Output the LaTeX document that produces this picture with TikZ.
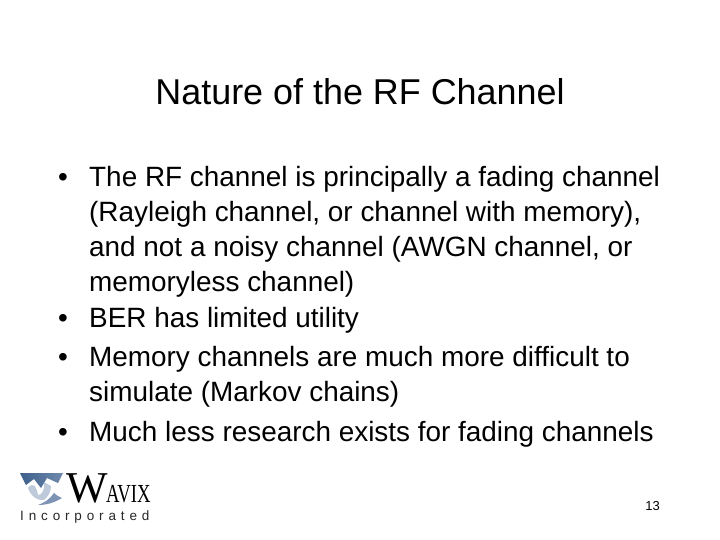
\documentclass[tikz,border=0pt]{standalone}
\usepackage{fontspec}
\setmainfont{Liberation Sans}
\newfontfamily\logoserif{Liberation Serif}
\newfontfamily\logosans[LetterSpace=36]{Liberation Sans}
\definecolor{logoblue}{RGB}{60,95,140}
\definecolor{logopale}{RGB}{190,202,218}
\definecolor{logomid}{RGB}{125,148,180}
\definecolor{logogray}{RGB}{40,40,40}
\tikzset{
  titletext/.style={anchor=base,font=\fontsize{35.9}{40}\selectfont,text=black,inner sep=0},
  bodytext/.style={anchor=base west,font=\fontsize{27.9}{32}\selectfont,text=black,inner sep=0},
}
\begin{document}
\begin{tikzpicture}[x=1pt,y=-1pt]
\useasboundingbox (0,0) rectangle (720,540);
\fill[white] (0,0) rectangle (720,540);
\node[titletext] (title) at (360,105) {Nature of the RF Channel};
\node[bodytext] (b1) at (58,187) {•};
\node[bodytext] (l1) at (89,187) {The RF channel is principally a fading channel};
\node[bodytext] (l2) at (89,222) {(Rayleigh channel, or channel with memory),};
\node[bodytext] (l3) at (89,256) {and not a noisy channel (AWGN channel, or};
\node[bodytext] (l4) at (89,291) {memoryless channel)};
\node[bodytext] (b2) at (58,327) {•};
\node[bodytext] (l5) at (89,327) {BER has limited utility};
\node[bodytext] (b3) at (58,366) {•};
\node[bodytext] (l6) at (89,366) {Memory channels are much more difficult to};
\node[bodytext] (l7) at (89,401) {simulate (Markov chains)};
\node[bodytext] (b4) at (58,441) {•};
\node[bodytext] (l8) at (89,441) {Much less research exists for fading channels};
\node[anchor=base east,font=\fontsize{13}{15}\selectfont,inner sep=0] (pg) at (660,510) {13};
% logo mark
\shade[left color=logoblue,right color=logomid!80!logoblue,shading angle=90] (20,473) -- (63,473) -- (58,483) -- (47,478) -- (41,488) -- (34,479) -- (26,485) -- cycle;
\fill[logopale] (28,488) .. controls (33,482) and (36,485) .. (38,495) .. controls (42,495) and (45,490) .. (44,482) -- (51,486) .. controls (51,492) and (48,497) .. (44,500) .. controls (37,501) and (31,496) .. (28,488) -- cycle;
\fill[logomid] (38,505) .. controls (44,503) and (50,499) .. (54,493) .. controls (56,495) and (59,497) .. (62,498) .. controls (54,503) and (46,505) .. (38,505) -- cycle;
% logo lettering
\node[anchor=base west,inner sep=0,font=\logoserif\fontsize{44}{44}\selectfont] (logow) at (66,502) {W};
\node[anchor=base west,inner sep=0,font=\logoserif\fontsize{26}{26}\selectfont,xscale=0.72] (logoavix) at (106,502) {AVIX};
\node[anchor=base west,inner sep=0,text=logogray,font=\logosans\fontsize{13.5}{14}\selectfont] (logoinc) at (20,520) {Incorporated};
\end{tikzpicture}
\end{document}
